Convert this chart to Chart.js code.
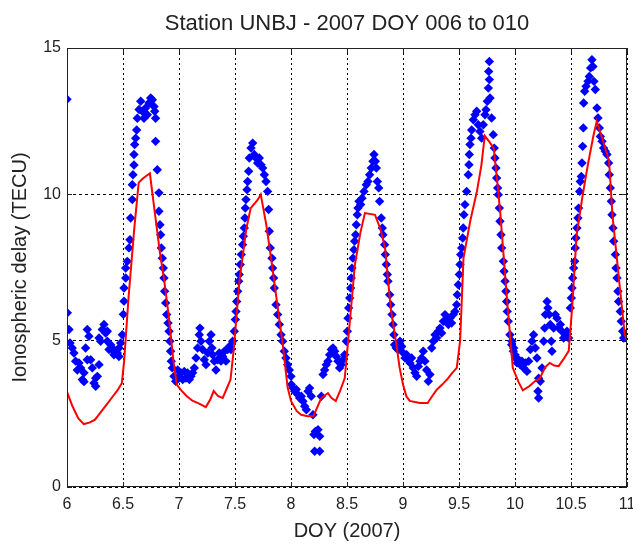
<!DOCTYPE html>
<html>
<head>
<meta charset="utf-8">
<title>Station UNBJ - 2007 DOY 006 to 010</title>
<script src="https://cdn.jsdelivr.net/npm/chart.js@4.4.1/dist/chart.umd.min.js"></script>
<style>
  html, body { margin: 0; padding: 0; background: #fff; }
  #wrap { width: 633px; height: 545px; }
</style>
</head>
<body>
<div id="wrap"><canvas id="tec" width="633" height="545"></canvas></div>
<script>
// observed ionospheric delay (blue diamonds), DOY and TECU
const blueDoy = [
  6.000, 6.003, 6.018, 6.027, 6.047, 6.062, 6.077, 6.092, 6.107, 6.122, 6.137, 6.152, 6.152, 6.166, 6.181, 6.181,
  6.196, 6.211, 6.226, 6.241, 6.256, 6.256, 6.271, 6.286, 6.286, 6.300, 6.315, 6.330, 6.345, 6.360, 6.360, 6.375,
  6.390, 6.405, 6.419, 6.419, 6.449, 6.464, 6.464, 6.479,
  6.494, 6.503, 6.509, 6.509, 6.524, 6.524, 6.538, 6.553, 6.562, 6.568, 6.583, 6.583, 6.589, 6.598, 6.598, 6.604,
  6.613, 6.622, 6.628, 6.643, 6.658, 6.672, 6.687, 6.702, 6.717, 6.732, 6.747, 6.762, 6.777, 6.783, 6.791, 6.791,
  6.806, 6.821, 6.821, 6.830, 6.836, 6.842, 6.851, 6.860, 6.866, 6.872, 6.881, 6.890, 6.902, 6.911, 6.919, 6.925,
  6.931, 6.940, 6.955, 6.970,
  6.988, 7.003, 7.018, 7.033, 7.047, 7.062, 7.077, 7.092, 7.107, 7.122, 7.137, 7.152, 7.166, 7.181, 7.187, 7.196,
  7.211, 7.226, 7.241, 7.256, 7.271, 7.286, 7.294, 7.300, 7.315, 7.330, 7.345, 7.360, 7.375, 7.390, 7.405, 7.419,
  7.434, 7.449, 7.464, 7.479,
  7.494, 7.503, 7.509, 7.515, 7.524, 7.533, 7.538, 7.547, 7.556, 7.568, 7.574, 7.583, 7.589, 7.592, 7.598, 7.607,
  7.613, 7.622, 7.628, 7.643, 7.658, 7.672, 7.687, 7.702, 7.717, 7.732, 7.747, 7.762, 7.777, 7.791, 7.800, 7.806,
  7.815, 7.830, 7.836, 7.845, 7.851, 7.866, 7.881, 7.896, 7.911, 7.925, 7.940, 7.955, 7.970, 7.985, 8.000,
  8.003, 8.018, 8.033, 8.047, 8.062, 8.077, 8.092, 8.107, 8.122, 8.137, 8.152, 8.166, 8.181, 8.196, 8.205, 8.217,
  8.241, 8.256, 8.211, 8.256, 8.271, 8.286, 8.300, 8.315, 8.330, 8.345, 8.360, 8.375, 8.390, 8.405, 8.419, 8.434,
  8.449, 8.464, 8.479, 8.494,
  8.503, 8.509, 8.515, 8.524, 8.533, 8.538, 8.544, 8.553, 8.562, 8.568, 8.577, 8.583, 8.592, 8.598, 8.607, 8.622,
  8.634, 8.652, 8.672, 8.687, 8.702, 8.717, 8.732, 8.741, 8.753, 8.762, 8.771, 8.783, 8.791, 8.806, 8.815, 8.821,
  8.836, 8.842, 8.851, 8.860, 8.866, 8.881, 8.890, 8.902, 8.911, 8.919, 8.925, 8.940, 8.955, 8.985,
  8.973, 8.988, 9.003, 9.018, 9.033, 9.047, 9.062, 9.077, 9.092, 9.107, 9.122, 9.137, 9.152, 9.166, 9.181, 9.196,
  9.211, 9.226, 9.241, 9.256, 9.271, 9.286, 9.300, 9.315, 9.330, 9.345, 9.360, 9.375, 9.390, 9.405, 9.419, 9.434,
  9.449, 9.464, 9.479,
  9.485, 9.494, 9.503, 9.509, 9.515, 9.524, 9.533, 9.538, 9.544, 9.553, 9.568, 9.583, 9.589, 9.592, 9.598, 9.607,
  9.613, 9.628, 9.643, 9.658, 9.672, 9.687, 9.702, 9.717, 9.732, 9.741, 9.753, 9.762, 9.765, 9.771, 9.771, 9.777,
  9.791, 9.806, 9.815, 9.821, 9.830, 9.836, 9.845, 9.851, 9.860, 9.866, 9.875, 9.881, 9.896, 9.902, 9.911, 9.919,
  9.925, 9.931, 9.940, 9.955, 9.970, 9.985, 10.000,
  9.973, 9.988, 10.003, 10.018, 10.033, 10.047, 10.062, 10.077, 10.092, 10.107, 10.122, 10.137, 10.152, 10.166, 10.181, 10.196,
  10.211, 10.205, 10.211, 10.226, 10.241, 10.256, 10.265, 10.271, 10.286, 10.294, 10.306, 10.315, 10.324, 10.330, 10.345, 10.360,
  10.375, 10.390, 10.405, 10.419, 10.434, 10.449, 10.464, 10.479,
  10.494, 10.503, 10.509, 10.515, 10.524, 10.533, 10.538, 10.544, 10.553, 10.562, 10.568, 10.577, 10.583, 10.592, 10.598, 10.604,
  10.610, 10.613, 10.622, 10.634, 10.652, 10.663, 10.675, 10.687, 10.696, 10.705, 10.717, 10.732, 10.741, 10.753, 10.762, 10.777,
  10.791, 10.806, 10.821, 10.836, 10.842, 10.851, 10.860, 10.866, 10.875, 10.881, 10.896, 10.902, 10.911, 10.919, 10.925, 10.940,
  10.949, 10.961, 10.970, 10.985, 11.000
];
const blueTec = [
  13.25, 5.95, 5.38, 4.92, 4.75, 4.58, 4.30, 4.00, 4.24, 4.07, 3.67, 3.90, 3.60, 4.75, 5.38, 4.35,
  5.15, 4.35, 4.07, 3.55, 3.44, 3.72, 3.78, 4.18, 5.09, 4.98, 5.38, 5.55, 5.26, 4.98, 5.32, 4.70,
  4.86, 4.75, 4.64, 4.52, 4.58, 4.75, 4.46, 4.92,
  5.20, 5.90, 6.35, 6.80, 7.14, 7.48, 7.71, 8.17, 8.45, 9.19, 9.82, 10.33, 10.67, 11.00, 11.36, 11.70,
  11.92, 12.20, 12.60, 12.90, 13.18, 12.84, 12.60, 12.95, 12.72, 13.12, 13.29, 13.23, 13.00, 12.84, 12.60, 11.81,
  10.84, 10.05, 9.42, 8.96, 8.62, 8.17, 7.82, 7.48, 7.14, 6.69, 6.29, 5.89, 5.60, 5.32, 4.98, 4.64,
  4.30, 4.07, 3.78, 3.61,
  4.00, 3.78, 3.90, 3.67, 3.95, 3.72, 3.90, 3.67, 3.78, 3.90, 4.07, 4.41, 4.75, 5.20, 5.43, 4.98,
  4.70, 4.35, 4.18, 4.58, 4.98, 5.20, 4.75, 4.52, 4.30, 4.00, 4.35, 4.58, 4.30, 4.46, 4.64, 4.30,
  4.70, 4.80, 4.70, 4.98,
  5.32, 5.72, 6.00, 6.34, 6.69, 7.03, 7.26, 7.60, 7.94, 8.28, 8.57, 8.85, 9.19, 9.53, 9.82, 10.16,
  10.44, 10.79, 11.24, 11.58, 11.75, 11.36, 11.24, 11.07, 11.24, 11.01, 10.90, 10.67, 10.44, 10.10, 9.48, 8.74,
  8.17, 7.82, 7.48, 7.14, 6.80, 6.23, 5.89, 5.55, 5.20, 4.98, 4.64, 4.41, 4.18, 4.00, 3.78,
  3.50, 3.38, 3.27, 3.33, 3.15, 3.04, 3.10, 2.93, 2.76, 2.64, 3.27, 3.38, 3.10, 2.47, 1.79, 1.90,
  1.96, 1.73, 1.22, 1.22, 3.10, 3.84, 4.00, 4.18, 4.30, 4.52, 4.70, 4.75, 4.64, 4.46, 4.30, 4.07,
  4.18, 4.35, 4.52, 4.98,
  5.32, 5.77, 6.12, 6.46, 6.80, 7.14, 7.48, 7.82, 8.11, 8.40, 8.62, 8.96, 9.30, 9.53, 9.76, 9.65,
  9.87, 10.10, 10.33, 10.44, 10.67, 10.90, 11.13, 11.36, 11.13, 10.90, 10.44, 10.22, 9.76, 9.19, 8.85, 8.62,
  8.28, 7.94, 7.60, 7.26, 7.03, 6.57, 6.23, 5.89, 5.55, 5.20, 4.86, 4.75, 4.70, 4.80,
  4.98, 4.80, 4.58, 4.41, 4.52, 4.35, 4.24, 4.41, 4.07, 3.90, 3.78, 4.12, 4.30, 4.41, 4.64, 4.30,
  4.00, 3.61, 3.84, 4.75, 4.98, 5.20, 5.09, 5.32, 5.43, 5.26, 5.66, 5.89, 5.72, 5.55, 5.77, 5.60,
  5.89, 6.00, 6.23,
  6.57, 6.91, 7.26, 7.60, 7.94, 8.17, 8.51, 8.85, 9.30, 9.65, 10.10, 10.67, 11.01, 11.36, 11.70, 11.92,
  12.20, 12.55, 12.72, 12.84, 12.38, 12.15, 11.92, 12.38, 12.72, 12.89, 13.18, 13.63, 14.20, 14.54, 13.92, 13.29,
  12.61, 12.04, 11.58, 11.24, 10.90, 10.56, 10.22, 9.99, 9.53, 9.08, 8.62, 8.17, 7.71, 7.37, 7.03, 6.69,
  6.34, 6.00, 5.66, 5.20, 4.86, 4.64, 4.52,
  4.98, 4.75, 4.41, 4.24, 4.35, 4.18, 4.30, 4.07, 4.24, 3.95, 4.30, 4.70, 4.98, 5.20, 4.75, 4.41,
  3.72, 3.27, 3.04, 3.61, 4.07, 4.98, 5.43, 5.89, 6.34, 6.12, 5.89, 5.55, 4.98, 4.64, 5.43, 5.89,
  5.77, 5.43, 5.55, 5.32, 5.09, 5.20, 5.32, 5.09,
  6.12, 6.46, 6.80, 7.14, 7.48, 7.71, 8.17, 8.51, 8.85, 9.19, 9.53, 10.10, 10.44, 10.61, 11.07, 11.64,
  12.27, 13.12, 13.52, 13.69, 13.86, 14.03, 14.32, 14.60, 14.37, 13.86, 13.58, 12.95, 12.61, 12.27, 11.98, 11.81,
  11.58, 11.47, 11.36, 11.07, 10.67, 10.22, 9.76, 9.30, 8.85, 8.40, 7.94, 7.48, 7.14, 6.69, 6.34, 6.00,
  5.66, 5.32, 5.09, 5.20, 5.09
];

// modelled delay (red line)
const redDoy = [
  6.00, 6.05, 6.10, 6.15, 6.20, 6.25, 6.30, 6.35, 6.40, 6.45, 6.49, 6.51, 6.55, 6.60, 6.64, 6.68,
  6.74, 6.78, 6.83, 6.87, 6.91, 6.95, 6.98, 7.02, 7.07, 7.12, 7.18, 7.24, 7.28, 7.31, 7.35, 7.39,
  7.43, 7.46, 7.49, 7.54, 7.60, 7.64, 7.70, 7.73, 7.78, 7.83, 7.87, 7.93, 7.97, 8.00, 8.05, 8.09,
  8.15, 8.20, 8.27, 8.33, 8.36, 8.40, 8.44, 8.48, 8.51, 8.57, 8.62, 8.66, 8.75, 8.80, 8.84, 8.89,
  8.94, 8.97, 9.00, 9.03, 9.06, 9.15, 9.22, 9.26, 9.30, 9.35, 9.40, 9.44, 9.48, 9.51, 9.54, 9.60,
  9.66, 9.70, 9.73, 9.77, 9.81, 9.84, 9.87, 9.93, 9.96, 9.98, 10.03, 10.07, 10.13, 10.18, 10.22, 10.27,
  10.31, 10.35, 10.39, 10.43, 10.48, 10.51, 10.55, 10.60, 10.65, 10.70, 10.73, 10.78, 10.84, 10.87, 10.93, 10.98,
  11.00
];
const redTec = [
  3.25, 2.75, 2.35, 2.15, 2.20, 2.30, 2.55, 2.80, 3.05, 3.30, 3.55, 4.30, 6.50, 8.80, 10.40, 10.55,
  10.72, 9.50, 8.00, 7.00, 5.80, 4.30, 3.50, 3.30, 3.10, 2.95, 2.85, 2.73, 3.00, 3.28, 3.10, 3.04,
  3.40, 3.67, 4.75, 7.04, 8.80, 9.53, 9.80, 9.99, 8.95, 7.60, 6.46, 4.75, 3.40, 2.94, 2.60, 2.47,
  2.42, 2.42, 3.04, 3.21, 3.05, 2.94, 3.30, 3.72, 4.99, 7.58, 8.70, 9.36, 9.30, 8.80, 8.17, 6.12,
  4.90, 4.07, 3.50, 3.10, 2.94, 2.87, 2.87, 3.10, 3.32, 3.50, 3.70, 3.90, 4.07, 5.00, 7.82, 9.08,
  10.10, 11.00, 12.00, 11.80, 11.58, 10.50, 9.30, 6.35, 5.00, 4.07, 3.60, 3.30, 3.45, 3.62, 3.70, 4.10,
  4.24, 4.15, 4.13, 4.35, 4.65, 6.12, 8.60, 9.87, 11.00, 12.00, 12.50, 11.90, 11.14, 9.30, 7.04, 5.20,
  5.00
];

const xTicks = [6, 6.5, 7, 7.5, 8, 8.5, 9, 9.5, 10, 10.5, 11];
const yTicks = [0, 5, 10, 15];

const FONT = "'Liberation Sans', Arial, Helvetica, sans-serif";
const INK = '#222222';

// solid axes box plus MATLAB style inward tick marks
const boxPlugin = {
    id: 'axesBox',
    afterDatasetsDraw(chart) {
        const { ctx, chartArea: a, scales } = chart;
        const tl = 5;
        ctx.save();
        ctx.strokeStyle = INK;
        ctx.lineWidth = 1;
        ctx.setLineDash([]);
        ctx.beginPath();
        scales.x.ticks.forEach(t => {
            const px = Math.round(scales.x.getPixelForValue(t.value)) + 0.5;
            ctx.moveTo(px, a.bottom); ctx.lineTo(px, a.bottom - tl);
            ctx.moveTo(px, a.top); ctx.lineTo(px, a.top + tl);
        });
        scales.y.ticks.forEach(t => {
            const py = Math.round(scales.y.getPixelForValue(t.value)) + 0.5;
            ctx.moveTo(a.left, py); ctx.lineTo(a.left + tl, py);
            ctx.moveTo(a.right, py); ctx.lineTo(a.right - tl, py);
        });
        ctx.stroke();
        ctx.strokeRect(Math.round(a.left) + 0.5, Math.round(a.top) + 0.5,
            Math.round(a.width) - 1, Math.round(a.height) - 1);
        ctx.restore();
    }
};

document.addEventListener("DOMContentLoaded", () => {
    const ctx = document.getElementById("tec").getContext('2d');

    const observed = blueDoy.map((d, i) => ({ x: d, y: blueTec[i] }));
    const model = redDoy.map((d, i) => ({ x: d, y: redTec[i] }));

    new Chart(ctx, {
        type: 'scatter',
        data: {
            datasets: [{
                label: 'Model',
                data: model,
                showLine: true,
                borderColor: '#ff0000',
                borderWidth: 2,
                pointRadius: 0,
                tension: 0,
                order: 0
            }, {
                label: 'Observed',
                data: observed,
                pointStyle: 'rectRot',
                pointRadius: 4.7,
                pointBackgroundColor: '#0000ff',
                pointBorderWidth: 0,
                borderColor: '#0000ff',
                order: 1
            }]
        },
        options: {
            responsive: false,
            animation: false,
            layout: { padding: { left: 0, right: 6, top: 0, bottom: 0 } },
            plugins: {
                legend: { display: false },
                tooltip: { enabled: false },
                title: {
                    display: true,
                    text: 'Station UNBJ - 2007 DOY 006 to 010',
                    fullSize: false,
                    color: INK,
                    font: { family: FONT, size: 22, weight: 'normal' },
                    padding: { top: 11, bottom: 10.6 }
                }
            },
            scales: {
                x: {
                    type: 'linear',
                    min: 6,
                    max: 11,
                    afterBuildTicks: s => { s.ticks = xTicks.map(v => ({ value: v })); },
                    afterFit: s => { s.height = 58; s.paddingLeft = 0; s.paddingRight = 0; },
                    grid: { color: '#000', lineWidth: 1, drawTicks: false },
                    border: { display: false, dash: [2, 3] },
                    ticks: {
                        color: INK,
                        padding: 8,
                        maxRotation: 0,
                        font: { family: FONT, size: 16 },
                        callback: v => String(v)
                    },
                    title: {
                        display: true,
                        text: 'DOY (2007)',
                        color: INK,
                        font: { family: FONT, size: 20 },
                        padding: { top: 0, bottom: 2 }
                    }
                },
                y: {
                    type: 'linear',
                    min: 0,
                    max: 15,
                    afterBuildTicks: s => { s.ticks = yTicks.map(v => ({ value: v })); },
                    afterFit: s => { s.width = 67; s.paddingTop = 0; s.paddingBottom = 0; },
                    grid: { color: '#000', lineWidth: 1, drawTicks: false },
                    border: { display: false, dash: [3, 3] },
                    ticks: {
                        color: INK,
                        padding: 6,
                        font: { family: FONT, size: 16 },
                        callback: v => String(v)
                    },
                    title: {
                        display: true,
                        text: 'Ionospheric delay (TECU)',
                        color: INK,
                        font: { family: FONT, size: 20 },
                        padding: { top: 8.5, bottom: 0 }
                    }
                }
            }
        },
        plugins: [boxPlugin]
    });
});
</script>
</body>
</html>
